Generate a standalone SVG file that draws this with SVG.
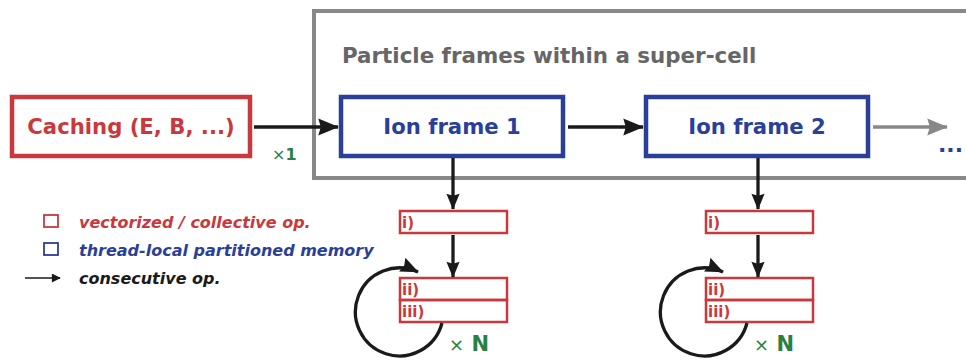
<svg xmlns="http://www.w3.org/2000/svg" width="966" height="360" viewBox="0 0 966 360">
<defs>
<marker id="ah" viewBox="0 0 12 10" refX="11.5" refY="5" markerWidth="6.4" markerHeight="5.2" markerUnits="strokeWidth" orient="auto"><path d="M0,0 L12,5 L0,10 L1.5,5 z" fill="#1a1a1a"/></marker>
<marker id="av" viewBox="0 0 12 10" refX="11.5" refY="5" markerWidth="5" markerHeight="4" markerUnits="strokeWidth" orient="auto"><path d="M0,0 L12,5 L0,10 L1.5,5 z" fill="#1a1a1a"/></marker>
<marker id="al" viewBox="0 0 12 10" refX="11.5" refY="5" markerWidth="5.6" markerHeight="4.6" markerUnits="strokeWidth" orient="auto"><path d="M0,0 L12,5 L0,10 L1.5,5 z" fill="#1a1a1a"/></marker>
<marker id="ahg" viewBox="0 0 12 10" refX="11.5" refY="5" markerWidth="6.4" markerHeight="5.2" markerUnits="strokeWidth" orient="auto"><path d="M0,0 L12,5 L0,10 L1.5,5 z" fill="#888888"/></marker>
<marker id="ahs" viewBox="0 0 10 10" refX="9" refY="5" markerWidth="8" markerHeight="6" markerUnits="strokeWidth" orient="auto"><path d="M0,0 L10,5 L0,10 z" fill="#1a1a1a"/></marker>
</defs>
<style>
text{font-family:"DejaVu Sans",sans-serif;font-weight:bold}
.red{fill:none;stroke:#c9383d;stroke-width:4.5}
.blue{fill:none;stroke:#2a3f9a;stroke-width:4.5}
.sm{fill:none;stroke:#c9383d;stroke-width:2.5}
.rt{fill:#c9383d}
.bt{fill:#2a3f9a}
.gt{fill:#2a8040}
.con{fill:none;stroke:#1a1a1a;stroke-width:3.3}
</style>
<rect width="966" height="360" fill="#fff"/>
<g id="supercell">
<rect x="314" y="11" width="700" height="167" fill="none" stroke="#888888" stroke-width="4"/>
<text x="342" y="63" font-size="21.4" fill="#666666">Particle frames within a super-cell</text>
</g>
<g id="caching">
<rect class="red" x="12" y="97" width="238" height="59"/>
<text class="rt" x="131" y="134" font-size="21.2" text-anchor="middle">Caching (E, B, ...)</text>
</g>
<g id="frame1">
<rect class="blue" x="341" y="97" width="222" height="59"/>
<text class="bt" x="452" y="134" font-size="21.2" text-anchor="middle">Ion frame 1</text>
</g>
<g id="frame2">
<rect class="blue" x="646" y="97" width="222" height="59"/>
<text class="bt" x="757" y="134" font-size="21.2" text-anchor="middle">Ion frame 2</text>
</g>
<g id="f1i"><rect class="sm" x="400" y="211" width="107" height="22"/><text class="rt" x="402" y="228" font-size="15">i)</text></g>
<g id="f1ii"><rect class="sm" x="400" y="278" width="107" height="22"/><text class="rt" x="402" y="295" font-size="15">ii)</text></g>
<g id="f1iii"><rect class="sm" x="400" y="300" width="107" height="22"/><text class="rt" x="402" y="317" font-size="15">iii)</text></g>
<g id="f2i"><rect class="sm" x="706" y="211" width="107" height="22"/><text class="rt" x="708" y="228" font-size="15">i)</text></g>
<g id="f2ii"><rect class="sm" x="706" y="278" width="107" height="22"/><text class="rt" x="708" y="295" font-size="15">ii)</text></g>
<g id="f2iii"><rect class="sm" x="706" y="300" width="107" height="22"/><text class="rt" x="708" y="317" font-size="15">iii)</text></g>
<g id="labels">
<text class="gt" x="272" y="160" font-size="16"><tspan font-weight="normal">×</tspan>1</text>
<text class="gt" x="449" y="351" font-size="21"><tspan font-weight="normal" font-size="18">×</tspan> N</text>
<text class="gt" x="754" y="351" font-size="21"><tspan font-weight="normal" font-size="18">×</tspan> N</text>
<text class="bt" x="938" y="152" font-size="22">...</text>
</g>
<g id="connectors">
<path class="con" d="M254,127 H338" marker-end="url(#ah)"/>
<path class="con" d="M568,127 H643" marker-end="url(#ah)"/>
<path d="M873,127 H947" fill="none" stroke="#888888" stroke-width="3.3" marker-end="url(#ahg)"/>
<path class="con" d="M453,158 V209" marker-end="url(#av)"/>
<path class="con" d="M453,235 V277" marker-end="url(#av)"/>
<path class="con" d="M758,158 V209" marker-end="url(#av)"/>
<path class="con" d="M758,235 V277" marker-end="url(#av)"/>
<path class="con" d="M442,323 A44,44 0 1 1 418,272" marker-end="url(#al)"/>
<path class="con" d="M747,323 A44,44 0 1 1 723,272" marker-end="url(#al)"/>
</g>
<g id="legend">
<rect x="44" y="215" width="14" height="12" fill="none" stroke="#c9383d" stroke-width="1.8"/>
<text class="rt" x="79" y="228" font-size="16" font-style="italic">vectorized / collective op.</text>
<rect x="44" y="243" width="14" height="12" fill="none" stroke="#2a3f9a" stroke-width="1.8"/>
<text class="bt" x="79" y="256" font-size="16" font-style="italic">thread-local partitioned memory</text>
<path d="M25,278 H60" fill="none" stroke="#1a1a1a" stroke-width="1.5" marker-end="url(#ahs)"/>
<text x="79" y="284" font-size="16" font-style="italic" fill="#1a1a1a">consecutive op.</text>
</g>
</svg>
